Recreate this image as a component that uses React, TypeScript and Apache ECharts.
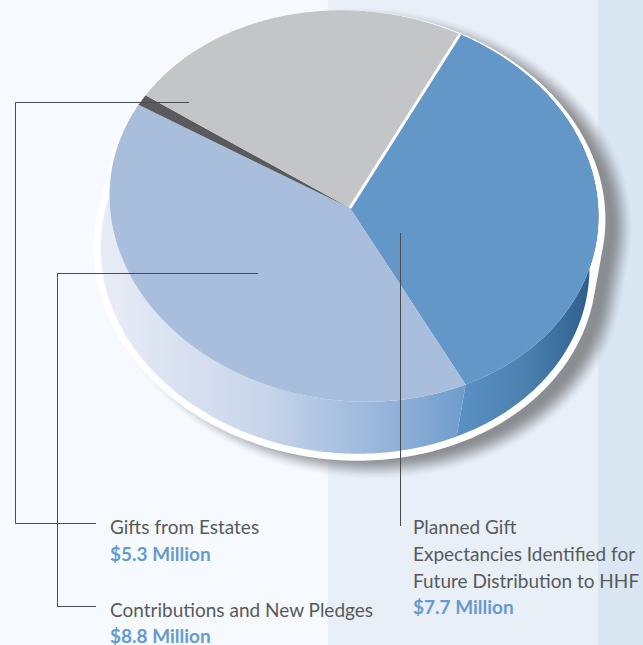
import React, { useEffect, useRef } from "react";
import * as echarts from "echarts";

// Slices, clockwise from the start angle. Values in $ million; the sliver is unlabelled.
const sliceNames = ["Planned Gift Expectancies", "Contributions and New Pledges", "Unlabelled", "Gifts from Estates"];
const sliceValues = [7.7, 8.8, 0.2, 5.1];
const sliceColors = ["#6297c8", "#a8bedc", "#5b5b5d", "#c4c5c6"];
const startAngle = 20.5;

const labelPlanned = ["Planned Gift", "Expectancies Identified for", "Future Distribution to HHF"];
const amountPlanned = "$7.7 Million";
const labelEstates = "Gifts from Estates";
const amountEstates = "$5.3 Million";
const labelPledges = "Contributions and New Pledges";
const amountPledges = "$8.8 Million";

type Ell = { cx: number; cy: number; rx: number; ry: number };
const TILT = (6.5 * Math.PI) / 180;
const TOP: Ell = { cx: 354, cy: 206, rx: 245, ry: 195 };
const SIDE: Ell = { cx: 345, cy: 258, rx: 245, ry: 195 };
const APEX: [number, number] = [350, 208];
const total = sliceValues.reduce((a, b) => a + b, 0);

function pt(e: Ell, deg: number): [number, number] {
  const a = (deg * Math.PI) / 180;
  const u = e.rx * Math.sin(a);
  const v = -e.ry * Math.cos(a);
  return [e.cx + u * Math.cos(TILT) - v * Math.sin(TILT), e.cy + u * Math.sin(TILT) + v * Math.cos(TILT)];
}
function arc(e: Ell, a0: number, a1: number): [number, number][] {
  const out: [number, number][] = [];
  const n = Math.max(2, Math.ceil((a1 - a0) * 2));
  for (let i = 0; i <= n; i++) out.push(pt(e, a0 + ((a1 - a0) * i) / n));
  return out;
}
function range(idx: number): [number, number] {
  let s = startAngle;
  for (let i = 0; i < idx; i++) s += (sliceValues[i] / total) * 360;
  return [s, s + (sliceValues[idx] / total) * 360];
}
function hull(points: [number, number][]): [number, number][] {
  const p = [...points].sort((a, b) => a[0] - b[0] || a[1] - b[1]);
  const cross = (o: number[], a: number[], b: number[]) => (a[0] - o[0]) * (b[1] - o[1]) - (a[1] - o[1]) * (b[0] - o[0]);
  const lo: [number, number][] = [];
  for (const q of p) {
    while (lo.length > 1 && cross(lo[lo.length - 2], lo[lo.length - 1], q) <= 0) lo.pop();
    lo.push(q);
  }
  const up: [number, number][] = [];
  for (let i = p.length - 1; i >= 0; i--) {
    const q = p[i];
    while (up.length > 1 && cross(up[up.length - 2], up[up.length - 1], q) <= 0) up.pop();
    up.push(q);
  }
  return [...lo.slice(0, -1), ...up.slice(0, -1)];
}
function outline(grow: number, sx: number, sy: number): [number, number][] {
  const a: Ell = { cx: TOP.cx + 2 + sx, cy: TOP.cy + 3 + sy, rx: TOP.rx + 5 + grow, ry: TOP.ry + 3 + grow };
  const b: Ell = { cx: SIDE.cx + sx, cy: SIDE.cy + sy, rx: SIDE.rx + 7 + grow, ry: SIDE.ry + 7 + grow };
  return hull([...arc(a, 0, 360), ...arc(b, 0, 360)]);
}

const sideFills: any[] = [
  {
    type: "linear", global: true, x: 452, y: 0, x2: 592, y2: 0,
    colorStops: [
      { offset: 0, color: "#5c92c6" },
      { offset: 0.55, color: "#4a7fae" },
      { offset: 1, color: "#2c5e8c" },
    ],
  },
  {
    type: "linear", global: true, x: 103, y: 0, x2: 462, y2: 0,
    colorStops: [
      { offset: 0, color: "#e8ecf6" },
      { offset: 0.45, color: "#c8d5ea" },
      { offset: 0.8, color: "#94b3d9" },
      { offset: 1, color: "#6f9dcc" },
    ],
  },
];

const TEXT = "#58595b";
const ACCENT = "#659ad0";
const LINE = "#4b4b4d";
const FONT = "Lato";

function text(x: number, y: number, t: string, accent = false) {
  return {
    type: "text", z: 120, x, y,
    style: {
      text: t, x: 0, y: 0,
      fill: accent ? ACCENT : TEXT,
      font: `${accent ? "bold 19px" : "19px"} ${FONT}`,
      textVerticalAlign: "middle",
    },
  };
}
function leader(points: number[][]) {
  return {
    type: "polyline", z: 110,
    shape: { points },
    style: { stroke: LINE, lineWidth: 1, fill: "none" },
  };
}
// soft drop shadow as a stack of growing translucent outlines
function softShadow() {
  const out: any[] = [];
  const inner = -12;
  const outer = 12;
  const T = (d: number) => {
    const t = Math.min(1, Math.max(0, (outer - d) / (outer - inner)));
    return t * t * (3 - 2 * t);
  };
  for (let d = outer - 1; d >= inner; d--) {
    const alpha = 1 - (1 - T(d)) / (1 - T(d + 1));
    out.push({
      type: "polygon", z: 1,
      shape: { points: outline(d, 17, 8) },
      style: { fill: "#8a8d91", opacity: Math.min(1, alpha) },
    });
  }
  return out;
}

export default function App() {
  const ref = useRef<HTMLDivElement>(null);
  useEffect(() => {
    const chart = echarts.init(ref.current!, null, { renderer: "svg" });
    const data = sliceValues.map((v, i) => ({ name: sliceNames[i], value: v }));
    chart.setOption({
      animation: false,
      backgroundColor: "transparent",
      graphic: {
        elements: [
          ...softShadow(),
          { type: "polygon", z: 2, shape: { points: outline(0, 0, 0) }, style: { fill: "#ffffff" } },
          leader([[189, 102.5], [15.5, 102.5], [15.5, 523.5], [96, 523.5]]),
          leader([[258, 273.5], [57.5, 273.5], [57.5, 606.5], [96, 606.5]]),
          leader([[400.5, 233], [400.5, 526]]),
          text(110, 526, labelEstates),
          text(110, 553.5, amountEstates, true),
          text(110, 609, labelPledges),
          text(110, 635, amountPledges, true),
          text(413, 526, labelPlanned[0]),
          text(413, 553, labelPlanned[1]),
          text(413, 580, labelPlanned[2]),
          text(413, 606.5, amountPlanned, true),
        ],
      },
      series: [
        {
          type: "custom", z: 5, silent: true, coordinateSystem: "none", data,
          renderItem: (p: any) => {
            const [a0, a1] = range(p.dataIndex);
            if (p.dataIndex > 1) return { type: "group", children: [] };
            return {
              type: "polygon",
              shape: { points: [...arc(TOP, a0, a1), ...arc(SIDE, a0, a1).reverse()] },
              style: { fill: sideFills[p.dataIndex], stroke: "none" },
            };
          },
        },
        {
          type: "custom", z: 6, silent: true, coordinateSystem: "none", data,
          renderItem: (p: any) => {
            const [a0, a1] = range(p.dataIndex);
            const children: any[] = [
              {
                type: "polygon",
                shape: { points: [APEX, ...arc(TOP, a0, a1)] },
                style: { fill: sliceColors[p.dataIndex], stroke: "none" },
              },
            ];
            if (p.dataIndex === sliceValues.length - 1) {
              const e = pt(TOP, a1);
              children.push({
                type: "line",
                shape: { x1: APEX[0], y1: APEX[1], x2: e[0], y2: e[1] },
                style: { stroke: "#ffffff", lineWidth: 3 },
              });
            }
            return { type: "group", children };
          },
        },
      ],
    });
    return () => chart.dispose();
  }, []);
  return (
    <div
      ref={ref}
      style={{
        position: "fixed", left: 0, top: 0, width: 643, height: 645,
        background: "linear-gradient(to right, #f6fafe 0, #f6fafe 328px, #e8eff7 328px, #e8eff7 598px, #dae7f2 598px, #dae7f2 100%)",
      }}
    />
  );
}
